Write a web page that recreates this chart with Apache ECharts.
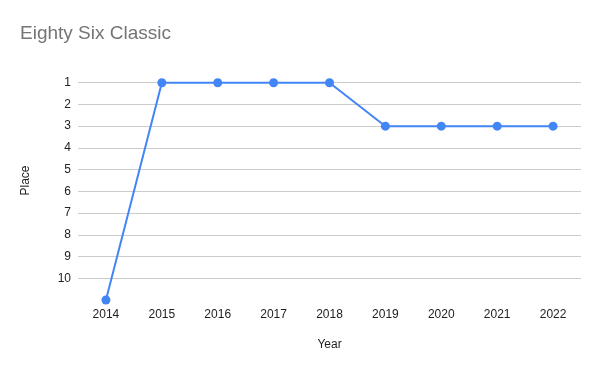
<!DOCTYPE html>
<html><head><meta charset="utf-8">
<script src="https://cdn.jsdelivr.net/npm/echarts@6/dist/echarts.min.js"></script>
<style>html,body{margin:0;padding:0;background:#fff}#c{width:600px;height:371px}</style>
</head><body><div id="c"></div>
<script>
const years = ['2014','2015','2016','2017','2018','2019','2020','2021','2022'];
const place = [11, 1, 1, 1, 1, 3, 3, 3, 3];
const chart = echarts.init(document.getElementById('c'), null, {renderer:'canvas'});
chart.setOption({
  animation:false,
  backgroundColor:'#fff',
  title:{text:'Eighty Six Classic', left:15, top:19, textStyle:{fontFamily:'Liberation Sans', fontSize:19, fontWeight:'normal', color:'#757575'}},
  grid:{left:78, right:19, top:61, bottom:71},
  xAxis:{type:'category', data:years, boundaryGap:true,
    name:'Year', nameLocation:'middle', nameGap:39,
    nameTextStyle:{fontFamily:'Liberation Sans', fontSize:12, color:'#222'},
    axisLine:{show:false}, axisTick:{show:false},
    axisLabel:{fontFamily:'Liberation Sans', fontSize:12, color:'#222', margin:9}},
  yAxis:{type:'value', inverse:true, min:0, max:11, interval:1,
    name:'Place', nameLocation:'middle', nameGap:46, nameRotate:90,
    nameTextStyle:{fontFamily:'Liberation Sans', fontSize:12, color:'#222'},
    axisLine:{show:false}, axisTick:{show:false},
    axisLabel:{fontFamily:'Liberation Sans', fontSize:12, color:'#222', margin:7, showMinLabel:false, showMaxLabel:false},
    splitLine:{show:true, showMinLine:false, showMaxLine:false, lineStyle:{color:'#cccccc', width:1}}},
  series:[{type:'line', data:place, symbol:'circle', symbolSize:9, clip:false,
    itemStyle:{color:'#4285F4'}, lineStyle:{color:'#4285F4', width:2}}]
});
</script></body></html>
